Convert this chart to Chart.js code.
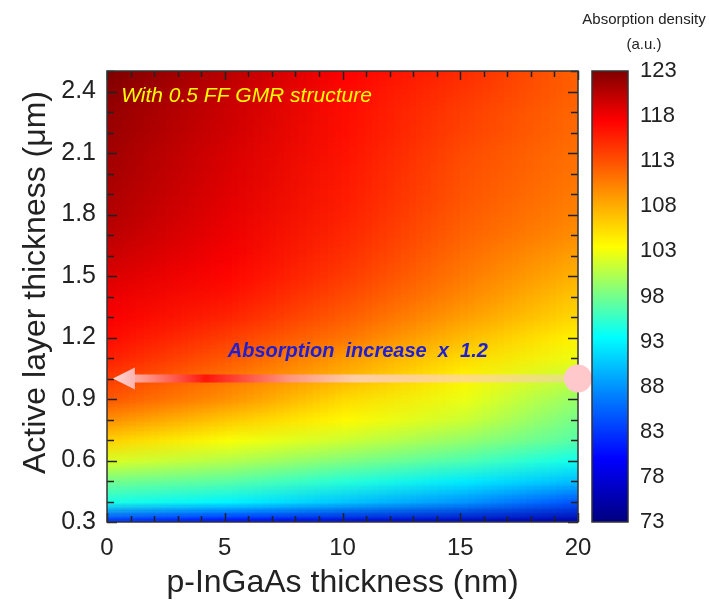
<!DOCTYPE html>
<html>
<head>
<meta charset="utf-8">
<script src="https://cdn.jsdelivr.net/npm/chart.js@4.4.1/dist/chart.umd.min.js"></script>
<style>
  html, body { margin: 0; padding: 0; background: #fff; }
  #wrap { width: 709px; height: 612px; }
</style>
</head>
<body>
<div id="wrap"><canvas id="mapa" width="709" height="612"></canvas></div>
<script>
// p-InGaAs thickness (nm) -> columns of the map
const pThickness = [0, 5, 10, 15, 20];
// active layer thickness (um) -> rows of the map, bottom to top
const activeThickness = [0.3, 0.4, 0.5, 0.6, 0.7, 0.8, 0.9, 1.0, 1.1, 1.2, 1.3, 1.4,
  1.5, 1.6, 1.7, 1.8, 1.9, 2.0, 2.1, 2.2, 2.3, 2.4, 2.5];
// absorption density (a.u.), one row per active layer thickness
const absorption = [
  [82, 80, 78, 76.5, 75],
  [94.5, 93, 90.5, 88, 84.5],
  [98, 97, 95, 92.5, 90],
  [102, 100.5, 98.5, 96.5, 94],
  [106, 103.3, 101.5, 99.3, 96.8],
  [109.5, 106.5, 103.8, 101.5, 98],
  [112.5, 109.5, 105.5, 102.7, 99.3],
  [114, 111, 107.5, 104, 101],
  [115.7, 112.5, 109, 105.5, 102.8],
  [116.8, 114, 111, 107.2, 104],
  [117.7, 115.5, 112.3, 108.8, 105.5],
  [118.3, 116.5, 113.3, 110, 106.5],
  [119, 117.2, 114.2, 110.8, 107.6],
  [119.7, 117.8, 114.8, 111.4, 108.6],
  [120.3, 118.2, 115.3, 112, 109.6],
  [120.8, 118.5, 115.7, 112.4, 110.2],
  [121, 118.8, 116, 112.8, 110.6],
  [121.3, 119, 116.2, 113, 111],
  [121.5, 119.2, 116.5, 113.3, 111.2],
  [121.8, 119.5, 116.7, 113.8, 111.5],
  [122, 119.7, 116.8, 114, 111.7],
  [122.5, 120, 117, 114.5, 112],
  [123, 120.5, 117.5, 115, 112]
];
// colour bar
const cbMin = 73, cbMax = 123, cbStep = 5;
const cmapValues = [73, 80, 87, 93.5, 98.5, 103.5, 108.5, 113, 117.5, 123];
const cmapColors = ['#000080', '#0000ff', '#0080ff', '#00ffff', '#80ff80',
  '#ffff00', '#ffa500', '#ff5000', '#ff0000', '#800000'];
// arrow: from the circle back to the y axis
const arrowFrom = {x: 20, y: 1.0};
const arrowTo = {x: 0.25, y: 1.0};

const FONTE = '"Liberation Sans", Arial, sans-serif';
Chart.defaults.font.family = FONTE;
Chart.defaults.color = '#222';

function hexRgb(h) {
  return [parseInt(h.substr(1, 2), 16), parseInt(h.substr(3, 2), 16), parseInt(h.substr(5, 2), 16)];
}
function corDe(v) {
  if (v <= cmapValues[0]) return hexRgb(cmapColors[0]);
  for (let i = 1; i < cmapValues.length; i++) {
    if (v <= cmapValues[i]) {
      const t = (v - cmapValues[i - 1]) / (cmapValues[i] - cmapValues[i - 1]);
      const a = hexRgb(cmapColors[i - 1]), b = hexRgb(cmapColors[i]);
      return [0, 1, 2].map(k => Math.round(a[k] + (b[k] - a[k]) * t));
    }
  }
  return hexRgb(cmapColors[cmapColors.length - 1]);
}

// heat map + frame with inward ticks
const mapaCalor = {
  id: 'mapaCalor',
  beforeDatasetsDraw(chart) {
    const {ctx, chartArea: a, scales: {x, y}} = chart;
    const nc = pThickness.length, nr = activeThickness.length;
    const off = document.createElement('canvas');
    off.width = nc; off.height = nr;
    const octx = off.getContext('2d');
    const img = octx.createImageData(nc, nr);
    for (let r = 0; r < nr; r++) {
      const row = absorption[nr - 1 - r];
      for (let c = 0; c < nc; c++) {
        const rgb = corDe(row[c]);
        const i = (r * nc + c) * 4;
        img.data[i] = rgb[0]; img.data[i + 1] = rgb[1]; img.data[i + 2] = rgb[2]; img.data[i + 3] = 255;
      }
    }
    octx.putImageData(img, 0, 0);
    const dx = (x.getPixelForValue(pThickness[1]) - x.getPixelForValue(pThickness[0])) / 2;
    const dy = (y.getPixelForValue(activeThickness[0]) - y.getPixelForValue(activeThickness[1])) / 2;
    const l = x.getPixelForValue(pThickness[0]) - dx;
    const r = x.getPixelForValue(pThickness[nc - 1]) + dx;
    const t = y.getPixelForValue(activeThickness[nr - 1]) - dy;
    const b = y.getPixelForValue(activeThickness[0]) + dy;
    ctx.save();
    ctx.beginPath();
    ctx.rect(a.left, a.top, a.width, a.height);
    ctx.clip();
    ctx.imageSmoothingEnabled = true;
    ctx.imageSmoothingQuality = 'low';
    ctx.drawImage(off, l, t, r - l, b - t);
    ctx.restore();

    // ticks pointing inward on all four sides
    ctx.save();
    ctx.strokeStyle = '#222';
    ctx.lineWidth = 1.5;
    ctx.beginPath();
    x.ticks.forEach(tk => {
      const px = Math.round(x.getPixelForValue(tk.value)) + 0.5;
      const len = Math.round(tk.value) % 5 === 0 ? 9 : 6;
      ctx.moveTo(px, a.bottom); ctx.lineTo(px, a.bottom - len);
      ctx.moveTo(px, a.top); ctx.lineTo(px, a.top + len);
    });
    y.ticks.forEach(tk => {
      const py = Math.round(y.getPixelForValue(tk.value)) + 0.5;
      const len = Math.round(tk.value * 10) % 3 === 0 ? 10 : 7;
      ctx.moveTo(a.left, py); ctx.lineTo(a.left + len, py);
      ctx.moveTo(a.right, py); ctx.lineTo(a.right - len, py);
    });
    ctx.stroke();
    ctx.lineWidth = 1.5;
    ctx.strokeStyle = '#333';
    ctx.strokeRect(a.left, a.top, a.width, a.height);
    ctx.restore();
  },
  afterDraw(chart) {
    const {ctx, chartArea: a, scales: {x, y, cb}} = chart;
    // colour bar
    const y0 = cb.getPixelForValue(cbMin), y1 = cb.getPixelForValue(cbMax);
    const g = ctx.createLinearGradient(0, y0, 0, y1);
    cmapValues.forEach((v, i) => g.addColorStop((v - cbMin) / (cbMax - cbMin), cmapColors[i]));
    const bx = cb.left + 14, bw = 36;
    ctx.save();
    ctx.fillStyle = g;
    ctx.fillRect(bx, y1, bw, y0 - y1);
    ctx.strokeStyle = '#333';
    ctx.lineWidth = 1.5;
    ctx.strokeRect(bx, y1, bw, y0 - y1);

    // colour bar labels (drawn here so the tick padding does not push the plot down)
    ctx.fillStyle = '#222';
    ctx.textAlign = 'left';
    ctx.textBaseline = 'middle';
    ctx.font = '22px ' + FONTE;
    cb.ticks.forEach(tk => ctx.fillText(String(tk.value), cb.left + 62, cb.getPixelForValue(tk.value)));

    ctx.textAlign = 'center';
    ctx.font = '15px ' + FONTE;
    ctx.fillText('Absorption density', cb.left + 66, 20);
    ctx.fillText('(a.u.)', cb.left + 66, 45);

    // y axis title, sits a little above the middle of the axis
    ctx.save();
    ctx.translate(36, (a.top + a.bottom) / 2 - 14);
    ctx.rotate(-Math.PI / 2);
    ctx.font = '32px ' + FONTE;
    ctx.fillText('Active layer thickness (μm)', 0, 0);
    ctx.restore();

    // notes on the map
    ctx.textAlign = 'left';
    ctx.fillStyle = '#ffff00';
    ctx.font = 'italic 21px ' + FONTE;
    ctx.fillText('With 0.5 FF GMR structure', x.getPixelForValue(0.6), y.getPixelForValue(2.375));

    ctx.textAlign = 'center';
    ctx.fillStyle = '#1f1fd0';
    ctx.font = 'italic bold 20px ' + FONTE;
    ctx.fillText('Absorption  increase  x  1.2', x.getPixelForValue(10.65), y.getPixelForValue(1.13));
    ctx.restore();
  }
};

// arrow head and the circle it starts from
const setaPonta = {
  id: 'setaPonta',
  afterDatasetsDraw(chart) {
    const {ctx, scales: {x, y}} = chart;
    const tx = x.getPixelForValue(arrowTo.x), ty = y.getPixelForValue(arrowTo.y);
    ctx.save();
    const g = ctx.createLinearGradient(tx, 0, tx + 22, 0);
    g.addColorStop(0, 'rgba(255,225,225,0.95)');
    g.addColorStop(1, 'rgba(255,185,185,0.95)');
    ctx.fillStyle = g;
    ctx.beginPath();
    ctx.moveTo(tx, ty);
    ctx.lineTo(tx + 22, ty - 11);
    ctx.lineTo(tx + 22, ty + 11);
    ctx.closePath();
    ctx.fill();
    const cx = x.getPixelForValue(arrowFrom.x), cy = y.getPixelForValue(arrowFrom.y);
    ctx.fillStyle = '#ffc9cc';
    ctx.beginPath();
    ctx.arc(cx, cy, 14, 0, Math.PI * 2);
    ctx.fill();
    ctx.restore();
  }
};

function gradSeta(context) {
  const chart = context.chart;
  const {chartArea, scales} = chart;
  if (!chartArea) return 'rgba(255,200,200,0.8)';
  const x0 = scales.x.getPixelForValue(arrowTo.x);
  const x1 = scales.x.getPixelForValue(arrowFrom.x);
  const g = chart.ctx.createLinearGradient(x0, 0, x1, 0);
  g.addColorStop(0.0, 'rgba(255,200,195,0.9)');
  g.addColorStop(0.06, 'rgba(255,170,165,0.9)');
  g.addColorStop(0.2, 'rgba(255,15,10,0.95)');
  g.addColorStop(0.38, 'rgba(255,150,140,0.9)');
  g.addColorStop(0.52, 'rgba(255,210,205,0.8)');
  g.addColorStop(1.0, 'rgba(255,200,200,0.45)');
  return g;
}

const config = {
  type: 'scatter',
  data: {
    datasets: [{
      type: 'line',
      data: [{x: arrowTo.x + 0.9, y: arrowTo.y}, {x: arrowFrom.x, y: arrowFrom.y}],
      borderColor: gradSeta,
      borderWidth: 8,
      pointRadius: 0,
      borderCapStyle: 'butt',
      clip: false
    }]
  },
  plugins: [mapaCalor, setaPonta],
  options: {
    responsive: false,
    animation: false,
    layout: {padding: {top: 71, left: 0, right: 0, bottom: 0}},
    plugins: {legend: {display: false}, tooltip: {enabled: false}},
    scales: {
      x: {
        type: 'linear', min: 0, max: 20,
        grid: {display: false, drawTicks: false},
        border: {display: false},
        ticks: {
          stepSize: 1, autoSkip: false, maxRotation: 0, padding: 12,
          font: {size: 24}, color: '#222',
          callback: v => (Math.round(v) % 5 === 0 ? String(Math.round(v)) : '')
        },
        title: {display: true, text: 'p-InGaAs thickness (nm)', font: {size: 32}, color: '#222',
          padding: {top: 0, bottom: 10}},
        afterFit: s => { s.height = 90; }
      },
      y: {
        type: 'linear', min: 0.3, max: 2.5,
        grid: {display: false, drawTicks: false},
        border: {display: false},
        ticks: {
          stepSize: 0.1, autoSkip: false, padding: 11,
          font: {size: 25}, color: '#222',
          callback: v => (Math.round(v * 10) % 3 === 0 ? v.toFixed(1) : '')
        },
        afterFit: s => { s.width = 107; }
      },
      cb: {
        type: 'linear', position: 'right', axis: 'y', min: cbMin, max: cbMax,
        grid: {display: false, drawTicks: false},
        border: {display: false},
        ticks: {stepSize: cbStep, display: false},
        afterFit: s => { s.width = 131; }
      }
    }
  }
};

new Chart(document.getElementById('mapa'), config);
</script>
</body>
</html>
